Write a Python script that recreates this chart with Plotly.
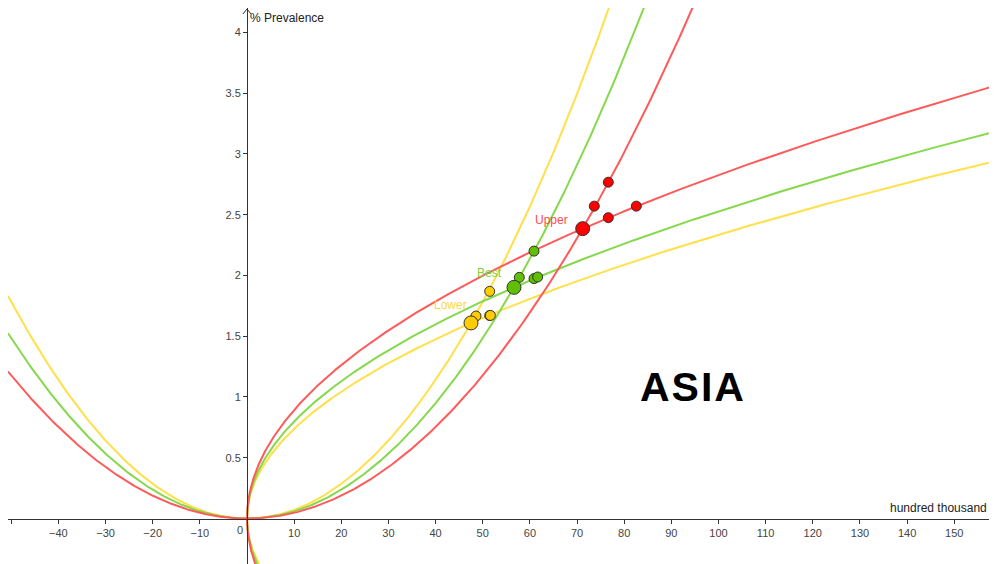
import numpy as np
import plotly.graph_objects as go

# ---- data ----
groups = ["Lower", "Best", "Upper"]
# curve coefficients: y = a*x^2 (upright parabola) and x = b*y^2 (sideways parabola)
coef_a = [7.129e-4, 5.931e-4, 4.705e-4]
coef_b = [18.35, 15.65, 12.52]
# main (intersection) points
main_x = [47.51, 56.63, 71.20]
main_y = [1.609, 1.902, 2.385]
# secondary points
lower_x = [51.47, 48.57, 51.47, 51.62]
lower_y = [1.869, 1.666, 1.670, 1.671]
best_x = [60.87, 57.75, 60.87, 61.65]
best_y = [2.200, 1.984, 1.974, 1.987]
upper_x = [76.63, 73.66, 76.63, 82.57]
upper_y = [2.767, 2.570, 2.475, 2.570]
small_x = [lower_x, best_x, upper_x]
small_y = [lower_y, best_y, upper_y]
# label anchor (data coords)
label_x = [43.2, 51.5, 64.6]
label_y = [1.76, 2.02, 2.46]

x_ticks = [-50, -40, -30, -20, -10, 10, 20, 30, 40, 50, 60, 70, 80, 90, 100, 110, 120, 130, 140, 150]
y_ticks = [0.5, 1, 1.5, 2, 2.5, 3, 3.5, 4]

# ---- styling ----
line_colors = ["#FFE04A", "#86D84C", "#FF5A5A"]
dot_colors = ["#FFCC00", "#5FBF00", "#FF0000"]
label_colors = ["#FFD83A", "#7ACF3A", "#FF4A4A"]
FONT = "Liberation Sans, Arial, sans-serif"

# visible window (page has an 8px body margin)
X0, X1 = -50.69, 159.07
Y0, Y1 = -0.374, 4.20

fig = go.Figure()

for i in range(3):
    a, b = coef_a[i], coef_b[i]
    xs = np.linspace(X0, np.sqrt(Y1 / a) + 1, 700)
    fig.add_trace(go.Scatter(x=xs, y=a * xs**2, mode="lines",
                             line=dict(color=line_colors[i], width=2),
                             hoverinfo="skip", showlegend=False))
    ys = np.linspace(Y0, min(Y1, np.sqrt(X1 / b)) + 0.05, 900)
    fig.add_trace(go.Scatter(x=b * ys**2, y=ys, mode="lines",
                             line=dict(color=line_colors[i], width=2),
                             hoverinfo="skip", showlegend=False))

for i in range(3):
    fig.add_trace(go.Scatter(x=small_x[i], y=small_y[i], mode="markers",
                             marker=dict(size=10, color=dot_colors[i],
                                         line=dict(color="#333333", width=1)),
                             showlegend=False))
    fig.add_trace(go.Scatter(x=[main_x[i]], y=[main_y[i]], mode="markers",
                             marker=dict(size=14, color=dot_colors[i],
                                         line=dict(color="#333333", width=1)),
                             showlegend=False))
    fig.add_annotation(x=label_x[i], y=label_y[i], text=groups[i], showarrow=False,
                       font=dict(family=FONT, size=12, color=label_colors[i]))

fig.add_annotation(x=94.6, y=1.082,
                   text="<span style='letter-spacing:2px'><b>ASIA</b></span>",
                   showarrow=False,
                   font=dict(family=FONT, size=41, color="#000000"))

# axis labels
fig.add_annotation(x=0, y=Y1, xref="x", yref="y", text="% Prevalence", showarrow=False,
                   xanchor="left", yanchor="top", xshift=1, yshift=-1,
                   font=dict(family=FONT, size=12, color="#222222"))
fig.add_annotation(x=X1, y=0, text="hundred thousand", showarrow=False,
                   xanchor="right", yanchor="bottom", xshift=-8, yshift=2,
                   font=dict(family=FONT, size=12, color="#222222"))
fig.add_annotation(x=0, y=0, text="0", showarrow=False, xanchor="right", yanchor="top",
                   xshift=-2, yshift=-3, font=dict(family=FONT, size=11, color="#444444"))

# axis arrow heads
fig.add_shape(type="path", xref="x", yref="y", xsizemode="pixel", ysizemode="pixel",
              xanchor=X1, yanchor=0, path="M -6,4 L -1,0 L -6,-4",
              line=dict(color="#333333", width=1))
fig.add_shape(type="path", xref="x", yref="y", xsizemode="pixel", ysizemode="pixel",
              xanchor=0, yanchor=Y1, path="M -4,-6 L 0,-1 L 4,-6",
              line=dict(color="#333333", width=1))

fig.update_layout(
    width=989, height=556, margin=dict(l=0, r=0, t=0, b=0),
    plot_bgcolor="white", paper_bgcolor="white", showlegend=False,
    font=dict(family=FONT, size=11, color="#444444"),
    xaxis=dict(range=[X0, X1], showgrid=False, zeroline=False, showline=True,
               linecolor="#333333", linewidth=1, anchor="free",
               position=(0 - Y0) / (Y1 - Y0),
               ticks="outside", ticklen=4, tickcolor="#333333",
               tickvals=x_ticks,
               ticktext=["" if v == -50 else ("\u2212" + str(-v) if v < 0 else str(v)) for v in x_ticks],
               tickfont=dict(family=FONT, size=11, color="#444444")),
    yaxis=dict(range=[Y0, Y1], showgrid=False, zeroline=False, showline=True,
               linecolor="#333333", linewidth=1, anchor="free",
               position=(0 - X0) / (X1 - X0),
               ticks="outside", ticklen=4, tickcolor="#333333",
               tickvals=y_ticks, ticktext=[f"{v:g}" for v in y_ticks],
               tickfont=dict(family=FONT, size=11, color="#444444")),
)

fig.write_html("out.html")
